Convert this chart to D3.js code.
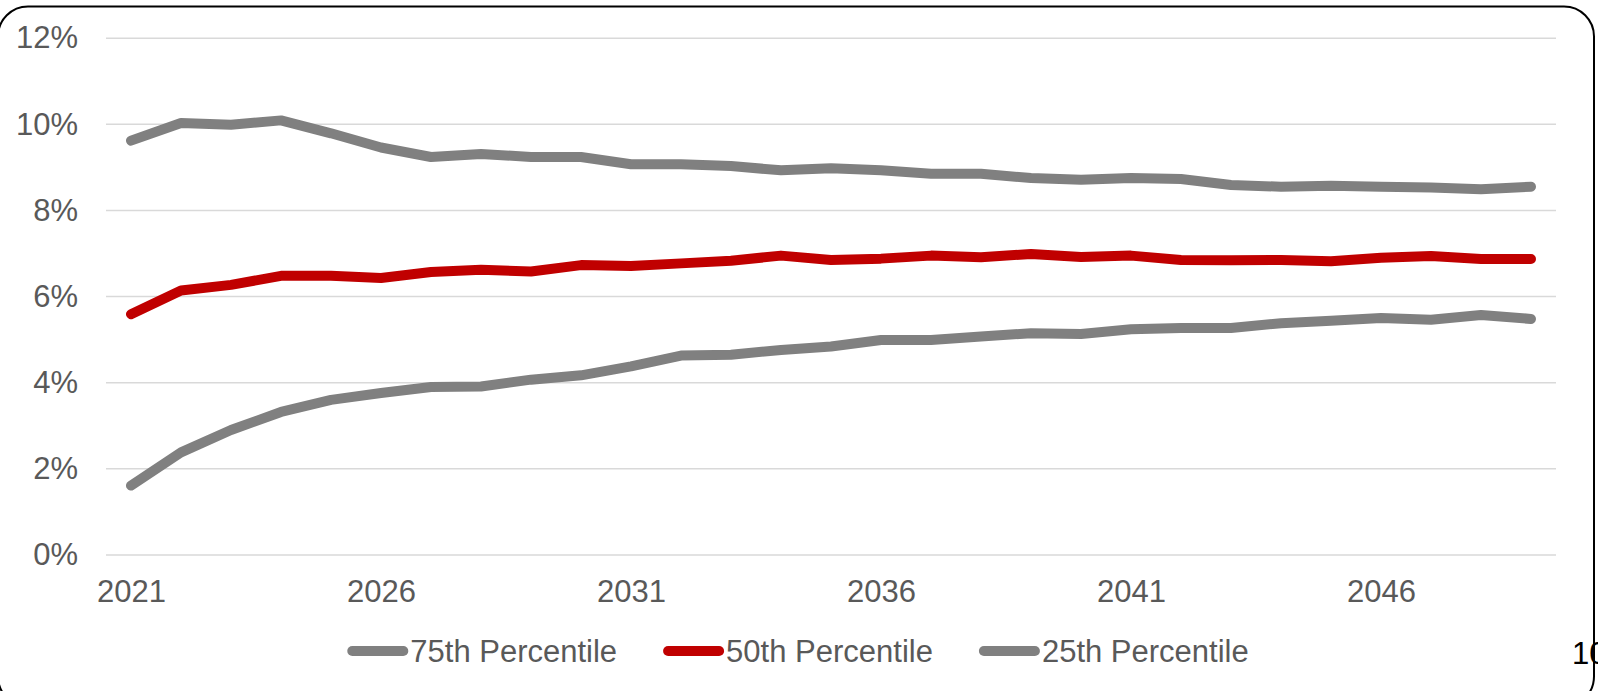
<!DOCTYPE html>
<html>
<head>
<meta charset="utf-8">
<script src="https://cdn.jsdelivr.net/npm/d3@7/dist/d3.min.js"></script>
<style>
  html, body { margin: 0; padding: 0; background: #ffffff; }
  svg { display: block; }
  text { font-family: "Liberation Sans", Arial, sans-serif; }
</style>
</head>
<body>
<svg id="chart" width="1598" height="691"></svg>
<script>
// Annual projection years
const years = d3.range(2021, 2050);

// Percentile paths (values in %)
const p75 = [9.61, 10.02, 9.98, 10.08, 9.78, 9.45, 9.23, 9.30, 9.23, 9.23,
             9.06, 9.06, 9.02, 8.92, 8.97, 8.92, 8.84, 8.84, 8.74, 8.70,
             8.74, 8.72, 8.58, 8.54, 8.56, 8.54, 8.52, 8.48, 8.54];
const p50 = [5.58, 6.13, 6.26, 6.47, 6.47, 6.42, 6.56, 6.61, 6.57, 6.72,
             6.70, 6.76, 6.82, 6.94, 6.84, 6.87, 6.94, 6.90, 6.98, 6.91,
             6.94, 6.84, 6.83, 6.84, 6.81, 6.89, 6.93, 6.86, 6.86];
const p25 = [1.60, 2.37, 2.89, 3.31, 3.59, 3.75, 3.89, 3.90, 4.06, 4.16,
             4.37, 4.62, 4.64, 4.75, 4.83, 4.98, 4.98, 5.06, 5.14, 5.12,
             5.23, 5.26, 5.26, 5.37, 5.43, 5.49, 5.45, 5.56, 5.47];

const seriesNames = ["75th Percentile", "50th Percentile", "25th Percentile"];
const seriesValues = [p75, p50, p25];
const seriesColors = ["#808080", "#C00000", "#808080"];

// Axis ticks
const yTicks = [0, 2, 4, 6, 8, 10, 12];
const xTickYears = [2021, 2026, 2031, 2036, 2041, 2046];
const pageNumber = "10";

const svg = d3.select("#chart");
const plot = { left: 106, right: 1556, top: 37.7, bottom: 554.5 };
const fontSize = 31;
const labelColor = "#595959";

// Rounded frame around the slide content
svg.append("rect")
  .attr("x", -2).attr("y", 6.5)
  .attr("width", 1596).attr("height", 700)
  .attr("rx", 30).attr("ry", 30)
  .attr("fill", "none")
  .attr("stroke", "#000000")
  .attr("stroke-width", 2);

const x = d3.scalePoint()
  .domain(years)
  .range([plot.left, plot.right])
  .padding(0.5);

const y = d3.scaleLinear()
  .domain([0, 12])
  .range([plot.bottom, plot.top]);

// Y axis with horizontal gridlines
const yAxis = svg.append("g")
  .attr("transform", `translate(${plot.left},0)`)
  .call(d3.axisLeft(y)
    .tickValues(yTicks)
    .tickFormat(d => d + "%")
    .tickSize(-(plot.right - plot.left))
    .tickPadding(28));
yAxis.select(".domain").remove();
yAxis.selectAll(".tick line")
  .attr("stroke", "#d9d9d9")
  .attr("stroke-width", 1.5);
yAxis.selectAll(".tick text")
  .attr("fill", labelColor)
  .attr("font-size", fontSize)
  .attr("font-family", "Liberation Sans, Arial, sans-serif")
  .attr("dy", "0.33em");

// X axis: every fifth year labelled
const xAxis = svg.append("g")
  .attr("transform", `translate(0,${plot.bottom})`)
  .call(d3.axisBottom(x)
    .tickValues(xTickYears)
    .tickSize(0)
    .tickPadding(25));
xAxis.select(".domain").remove();
xAxis.selectAll(".tick text")
  .attr("fill", labelColor)
  .attr("font-size", fontSize)
  .attr("font-family", "Liberation Sans, Arial, sans-serif");

// Percentile lines
const line = d3.line()
  .x((d, i) => x(years[i]))
  .y(d => y(d));

svg.append("g")
  .selectAll("path")
  .data(seriesValues)
  .join("path")
  .attr("d", d => line(d))
  .attr("fill", "none")
  .attr("stroke", (d, i) => seriesColors[i])
  .attr("stroke-width", 10)
  .attr("stroke-linejoin", "round")
  .attr("stroke-linecap", "round");

// Legend, centred under the chart
const legend = svg.append("g");
const legendY = 651;
const legendCenter = 798;
const swatch = 51;      // line length between round caps
const capR = 5;
const itemGap = 46;
const items = legend.selectAll("g")
  .data(seriesNames)
  .join("g");
items.append("line")
  .attr("x1", capR).attr("x2", capR + swatch)
  .attr("y1", 0).attr("y2", 0)
  .attr("stroke", (d, i) => seriesColors[i])
  .attr("stroke-width", 10)
  .attr("stroke-linecap", "round");
items.append("text")
  .attr("x", 2 * capR + swatch + 2)
  .attr("y", 0)
  .attr("dy", "0.355em")
  .attr("fill", labelColor)
  .attr("font-size", fontSize)
  .text(d => d);

const widths = [];
items.each(function () {
  const t = d3.select(this).select("text").node();
  widths.push(2 * capR + swatch + 2 + t.getComputedTextLength());
});
const total = d3.sum(widths) + itemGap * (widths.length - 1);
let cx = legendCenter - total / 2;
items.attr("transform", (d, i) => {
  const tx = cx;
  cx += widths[i] + itemGap;
  return `translate(${tx},${legendY})`;
});

// Page number at the lower right edge
svg.append("text")
  .attr("x", 1572)
  .attr("y", 664)
  .attr("font-size", fontSize)
  .attr("fill", "#000000")
  .text(pageNumber);
</script>
</body>
</html>
